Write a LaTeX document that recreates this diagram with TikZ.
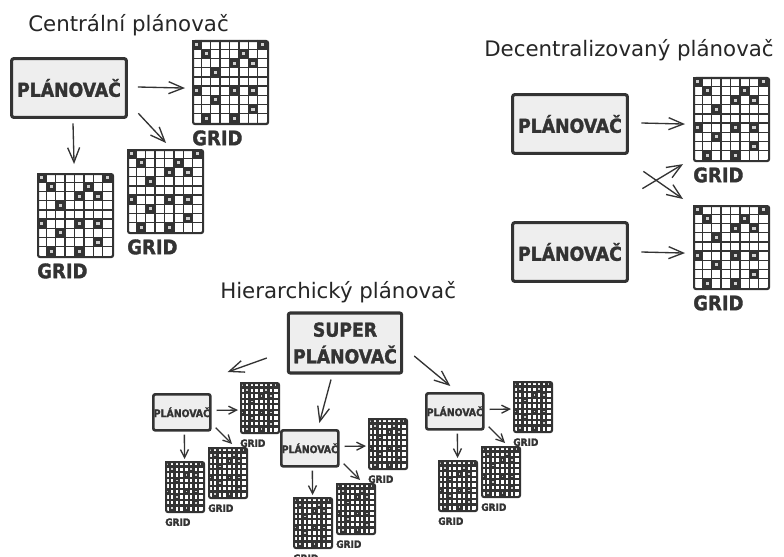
\documentclass[tikz,border=0pt]{standalone}
\usepackage{fontspec}
\setmainfont{DejaVu Sans}
\newfontfamily\heavy{DejaVu Sans Condensed Bold}[FakeBold=1.6]
\usetikzlibrary{arrows.meta}

\definecolor{ink}{HTML}{333333}
\definecolor{boxfill}{HTML}{EEEEEE}
\definecolor{dotfill}{HTML}{D0D0D0}

\tikzset{
  planbox/.style={draw=ink, fill=boxfill, line width=2.3pt, rounded corners=1.5pt,
    minimum width=86pt, minimum height=44pt, inner sep=0pt, align=center, text=ink,
    font=\heavy\fontsize{14.4}{20}\selectfont},
  superbox/.style={planbox, minimum width=85pt, minimum height=45pt},
  smallbox/.style={planbox, line width=2pt, minimum width=42.75pt, minimum height=27pt,
    font=\heavy\fontsize{7.8}{8}\selectfont},
  gridframe/.style={draw=ink, line width=1.6pt, rounded corners=1.5pt, inner sep=0pt},
  gridlabel/.style={anchor=north west, inner sep=0pt, text=ink},
  arr/.style={draw=ink, line width=1pt, -{Straight Barb[length=11pt,width=9pt]}},
  sarr/.style={draw=ink, line width=1pt, -{Straight Barb[length=6pt,width=6pt]}},
  title/.style={anchor=base west, inner sep=0pt, text=black!85,
    font=\fontsize{16}{19}\selectfont},
}

% grid of 8 x 9 cells: name, x, y, width, height, line width, label font size
\newcommand\gridblock[7]{%
  \begin{scope}[shift={(#2,#3)}, xscale={#4/72}, yscale={#5/81}]
    \fill[white] (0,0) rectangle (72,81);
    \foreach \cx/\cy in {0/0,7/0,1/1,5/1,4/2,6/2,2/3,0/5,4/5,6/5,2/6,6/7,1/8,4/8} {
      \fill[ink] (\cx*9,\cy*9) rectangle ++(9,9);
      \fill[dotfill] (\cx*9+3,\cy*9+3) rectangle ++(3,3);
    }
    \foreach \k in {1,...,7} \draw[ink, line width=#6] (\k*9,0) -- (\k*9,81);
    \foreach \k in {1,...,8} \draw[ink, line width=#6] (0,\k*9) -- (72,\k*9);
  \end{scope}
  \node[gridframe, minimum width={#4*0.75pt}, minimum height={#5*0.75pt},
        anchor=north west] (#1) at (#2,#3) {};
  \node[gridlabel, font=\heavy\fontsize{#7}{#7}\selectfont]
        (#1-label) at ([shift={(0,5)}]#1.south west) {GRID};
}

% small planner with its three grids: name, x, y of the box corner
\newcommand\subplanner[3]{%
  \node[smallbox, anchor=north west] (#1) at (#2,#3) {PLÁNOVAČ};
  \gridblock{#1a}{#2+88}{#3-11}{38}{50}{1.6pt}{7.5}
  \gridblock{#1b}{#2+56}{#3+54}{38}{50}{1.6pt}{7.5}
  \gridblock{#1c}{#2+13}{#3+68}{38}{50}{1.6pt}{7.5}
  \draw[sarr] ([shift={(5,-2)}]#1.east) -- ([shift={(-2,2)}]#1a.west);
  \draw[sarr] ([shift={(4,-4)}]#1.south east) -- ([shift={(4,-3)}]#1b.north);
  \draw[sarr] ([shift={(2.5,3)}]#1.south) -- ([shift={(-0.5,-2)}]#1c.north);
}

\begin{document}
\begin{tikzpicture}[x=0.75pt, y=-0.75pt]
  \fill[white] (0,0) rectangle (784,556);
  \useasboundingbox (0,0) rectangle (784,556);

  % ---------- central planner ----------
  \node[title] (t1) at (28,32) {Centrální plánovač};
  \node[planbox] (c) at (69,88) {PLÁNOVAČ};
  \gridblock{ca}{192}{40}{75}{83}{1pt}{15}
  \gridblock{cb}{127}{149}{75}{83}{1pt}{15}
  \gridblock{cc}{37}{173}{75}{83}{1pt}{15}
  \draw[arr] ([shift={(10,-1)}]c.east) -- ([shift={(-7,5.5)}]ca.west);
  \draw[arr] ([shift={(10.5,-5.5)}]c.south east) -- ([shift={(0.5,-6)}]cb.north);
  \draw[arr] ([shift={(4,4.5)}]c.south) -- ([shift={(-1.5,-9)}]cc.north);

  % ---------- decentralised planners ----------
  \node[title] (t2) at (484,57) {Decentralizovaný plánovač};
  \node[planbox] (d1) at (570,124) {PLÁNOVAČ};
  \node[planbox] (d2) at (570,252) {PLÁNOVAČ};
  \gridblock{da}{693}{77}{75}{83}{1pt}{15}
  \gridblock{db}{693}{205}{75}{83}{1pt}{15}
  \draw[arr] ([shift={(12.5,-1)}]d1.east) -- ([shift={(-8,4.5)}]da.west);
  \draw[arr] ([shift={(12.5,0)}]d2.east) -- ([shift={(-8,5.5)}]db.west);
  \draw[arr] ([shift={(13.5,-32.5)}]d2.north east) -- ([shift={(-10,2)}]da.south west);
  \draw[arr] ([shift={(14.5,16.5)}]d1.south east) -- ([shift={(-10,-6)}]db.north west);

  % ---------- hierarchical planner ----------
  \node[title] (t3) at (220,298) {Hierarchický plánovač};
  \node[superbox] (s) at (345,343) {SUPER\\PLÁNOVAČ};
  \subplanner{l}{152}{393}
  \subplanner{m}{280}{429}
  \subplanner{r}{425}{392}
  \draw[arr] ([shift={(-20,15)}]s.west) -- ([shift={(16,-21)}]l.north east);
  \draw[arr] ([shift={(-14,5)}]s.south) -- ([shift={(9.5,-6)}]m.north);
  \draw[arr] ([shift={(11,13)}]s.east) -- ([shift={(-4.5,-6)}]r.north);
\end{tikzpicture}
\end{document}
